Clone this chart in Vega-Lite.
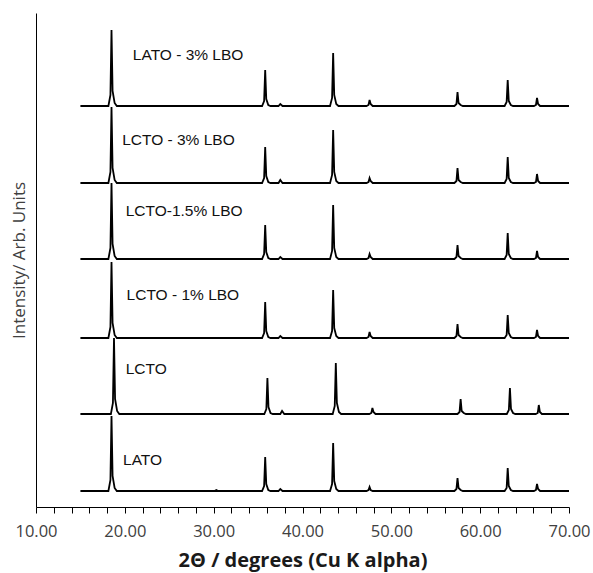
{
  "$schema": "https://vega.github.io/schema/vega-lite/v6.json",
  "width": 533,
  "height": 494,
  "autosize": "none",
  "padding": {"left": 36, "top": 13, "right": 24, "bottom": 66},
  "background": "white",
  "config": {"view": {"stroke": null}},
  "datasets": {
    "xrd": [
      {"s":"A","x":15,"y":401},{"s":"A","x":18.15,"y":401},{"s":"A","x":18.38,"y":412},{"s":"A","x":18.5,"y":477},{"s":"A","x":18.62,"y":416},{"s":"A","x":18.85,"y":404},{"s":"A","x":19.1,"y":401},
      {"s":"A","x":35.45,"y":401},{"s":"A","x":35.68,"y":406},{"s":"A","x":35.8,"y":437},{"s":"A","x":35.92,"y":408},{"s":"A","x":36.15,"y":402},{"s":"A","x":36.4,"y":401},
      {"s":"A","x":37.3,"y":401},{"s":"A","x":37.5,"y":403},{"s":"A","x":37.75,"y":401},
      {"s":"A","x":43.1,"y":401},{"s":"A","x":43.33,"y":409},{"s":"A","x":43.45,"y":454},{"s":"A","x":43.57,"y":412},{"s":"A","x":43.8,"y":403},{"s":"A","x":44.05,"y":401},
      {"s":"A","x":47.2,"y":401},{"s":"A","x":47.43,"y":402},{"s":"A","x":47.55,"y":407},{"s":"A","x":47.67,"y":403},{"s":"A","x":47.9,"y":401},
      {"s":"A","x":57.1,"y":401},{"s":"A","x":57.33,"y":403},{"s":"A","x":57.45,"y":415},{"s":"A","x":57.57,"y":404},{"s":"A","x":57.8,"y":402},{"s":"A","x":58.05,"y":401},
      {"s":"A","x":62.75,"y":401},{"s":"A","x":62.98,"y":405},{"s":"A","x":63.1,"y":427},{"s":"A","x":63.22,"y":406},{"s":"A","x":63.45,"y":402},{"s":"A","x":63.7,"y":401},
      {"s":"A","x":66.05,"y":401},{"s":"A","x":66.28,"y":402},{"s":"A","x":66.4,"y":409},{"s":"A","x":66.52,"y":403},{"s":"A","x":66.75,"y":401},{"s":"A","x":70,"y":401},

      {"s":"B","x":15,"y":324},{"s":"B","x":18.15,"y":324},{"s":"B","x":18.38,"y":335},{"s":"B","x":18.5,"y":400},{"s":"B","x":18.62,"y":339},{"s":"B","x":18.85,"y":327},{"s":"B","x":19.1,"y":324},
      {"s":"B","x":35.45,"y":324},{"s":"B","x":35.68,"y":329},{"s":"B","x":35.8,"y":360},{"s":"B","x":35.92,"y":331},{"s":"B","x":36.15,"y":325},{"s":"B","x":36.4,"y":324},
      {"s":"B","x":37.3,"y":324},{"s":"B","x":37.5,"y":327},{"s":"B","x":37.75,"y":324},
      {"s":"B","x":43.1,"y":324},{"s":"B","x":43.33,"y":332},{"s":"B","x":43.45,"y":377},{"s":"B","x":43.57,"y":335},{"s":"B","x":43.8,"y":326},{"s":"B","x":44.05,"y":324},
      {"s":"B","x":47.2,"y":324},{"s":"B","x":47.43,"y":325},{"s":"B","x":47.55,"y":329},{"s":"B","x":47.67,"y":326},{"s":"B","x":47.9,"y":324},
      {"s":"B","x":57.1,"y":324},{"s":"B","x":57.33,"y":326},{"s":"B","x":57.45,"y":339},{"s":"B","x":57.57,"y":327},{"s":"B","x":57.8,"y":325},{"s":"B","x":58.05,"y":324},
      {"s":"B","x":62.75,"y":324},{"s":"B","x":62.98,"y":328},{"s":"B","x":63.1,"y":350},{"s":"B","x":63.22,"y":329},{"s":"B","x":63.45,"y":325},{"s":"B","x":63.7,"y":324},
      {"s":"B","x":66.05,"y":324},{"s":"B","x":66.28,"y":325},{"s":"B","x":66.4,"y":333},{"s":"B","x":66.52,"y":326},{"s":"B","x":66.75,"y":324},{"s":"B","x":70,"y":324},

      {"s":"C","x":15,"y":248},{"s":"C","x":18.15,"y":248},{"s":"C","x":18.38,"y":259},{"s":"C","x":18.5,"y":324},{"s":"C","x":18.62,"y":263},{"s":"C","x":18.85,"y":251},{"s":"C","x":19.1,"y":248},
      {"s":"C","x":35.45,"y":248},{"s":"C","x":35.68,"y":253},{"s":"C","x":35.8,"y":282},{"s":"C","x":35.92,"y":255},{"s":"C","x":36.15,"y":249},{"s":"C","x":36.4,"y":248},
      {"s":"C","x":37.3,"y":248},{"s":"C","x":37.5,"y":250},{"s":"C","x":37.75,"y":248},
      {"s":"C","x":43.1,"y":248},{"s":"C","x":43.33,"y":256},{"s":"C","x":43.45,"y":302},{"s":"C","x":43.57,"y":259},{"s":"C","x":43.8,"y":250},{"s":"C","x":44.05,"y":248},
      {"s":"C","x":47.2,"y":248},{"s":"C","x":47.43,"y":249},{"s":"C","x":47.55,"y":253},{"s":"C","x":47.67,"y":250},{"s":"C","x":47.9,"y":248},
      {"s":"C","x":57.1,"y":248},{"s":"C","x":57.33,"y":250},{"s":"C","x":57.45,"y":262},{"s":"C","x":57.57,"y":251},{"s":"C","x":57.8,"y":249},{"s":"C","x":58.05,"y":248},
      {"s":"C","x":62.75,"y":248},{"s":"C","x":62.98,"y":252},{"s":"C","x":63.1,"y":274},{"s":"C","x":63.22,"y":253},{"s":"C","x":63.45,"y":249},{"s":"C","x":63.7,"y":248},
      {"s":"C","x":66.05,"y":248},{"s":"C","x":66.28,"y":249},{"s":"C","x":66.4,"y":256},{"s":"C","x":66.52,"y":250},{"s":"C","x":66.75,"y":248},{"s":"C","x":70,"y":248},

      {"s":"D","x":15,"y":169},{"s":"D","x":18.15,"y":169},{"s":"D","x":18.38,"y":180},{"s":"D","x":18.5,"y":245},{"s":"D","x":18.62,"y":184},{"s":"D","x":18.85,"y":172},{"s":"D","x":19.1,"y":169},
      {"s":"D","x":35.45,"y":169},{"s":"D","x":35.68,"y":174},{"s":"D","x":35.8,"y":205},{"s":"D","x":35.92,"y":176},{"s":"D","x":36.15,"y":170},{"s":"D","x":36.4,"y":169},
      {"s":"D","x":37.3,"y":169},{"s":"D","x":37.5,"y":171},{"s":"D","x":37.75,"y":169},
      {"s":"D","x":43.1,"y":169},{"s":"D","x":43.33,"y":176},{"s":"D","x":43.45,"y":217},{"s":"D","x":43.57,"y":179},{"s":"D","x":43.8,"y":171},{"s":"D","x":44.05,"y":169},
      {"s":"D","x":47.2,"y":169},{"s":"D","x":47.43,"y":170},{"s":"D","x":47.55,"y":175},{"s":"D","x":47.67,"y":171},{"s":"D","x":47.9,"y":169},
      {"s":"D","x":57.1,"y":169},{"s":"D","x":57.33,"y":171},{"s":"D","x":57.45,"y":183},{"s":"D","x":57.57,"y":172},{"s":"D","x":57.8,"y":170},{"s":"D","x":58.05,"y":169},
      {"s":"D","x":62.75,"y":169},{"s":"D","x":62.98,"y":172},{"s":"D","x":63.1,"y":192},{"s":"D","x":63.22,"y":174},{"s":"D","x":63.45,"y":170},{"s":"D","x":63.7,"y":169},
      {"s":"D","x":66.05,"y":169},{"s":"D","x":66.28,"y":170},{"s":"D","x":66.4,"y":177},{"s":"D","x":66.52,"y":171},{"s":"D","x":66.75,"y":169},{"s":"D","x":70,"y":169},

      {"s":"E","x":15,"y":93},{"s":"E","x":18.43,"y":93},{"s":"E","x":18.66,"y":104},{"s":"E","x":18.78,"y":169},{"s":"E","x":18.9,"y":108},{"s":"E","x":19.13,"y":96},{"s":"E","x":19.38,"y":93},
      {"s":"E","x":35.7,"y":93},{"s":"E","x":35.93,"y":98},{"s":"E","x":36.05,"y":129},{"s":"E","x":36.17,"y":100},{"s":"E","x":36.4,"y":94},{"s":"E","x":36.65,"y":93},
      {"s":"E","x":37.5,"y":93},{"s":"E","x":37.7,"y":96},{"s":"E","x":37.95,"y":93},
      {"s":"E","x":43.4,"y":93},{"s":"E","x":43.63,"y":101},{"s":"E","x":43.75,"y":144},{"s":"E","x":43.87,"y":104},{"s":"E","x":44.1,"y":95},{"s":"E","x":44.35,"y":93},
      {"s":"E","x":47.52,"y":93},{"s":"E","x":47.75,"y":94},{"s":"E","x":47.87,"y":99},{"s":"E","x":47.99,"y":95},{"s":"E","x":48.22,"y":93},
      {"s":"E","x":57.45,"y":93},{"s":"E","x":57.68,"y":95},{"s":"E","x":57.8,"y":108},{"s":"E","x":57.92,"y":96},{"s":"E","x":58.15,"y":94},{"s":"E","x":58.4,"y":93},
      {"s":"E","x":63.0,"y":93},{"s":"E","x":63.23,"y":97},{"s":"E","x":63.35,"y":119},{"s":"E","x":63.47,"y":98},{"s":"E","x":63.7,"y":94},{"s":"E","x":63.95,"y":93},
      {"s":"E","x":66.25,"y":93},{"s":"E","x":66.48,"y":94},{"s":"E","x":66.6,"y":102},{"s":"E","x":66.72,"y":95},{"s":"E","x":66.95,"y":93},{"s":"E","x":70,"y":93},

      {"s":"F","x":15,"y":16},{"s":"F","x":18.15,"y":16},{"s":"F","x":18.38,"y":27},{"s":"F","x":18.5,"y":91},{"s":"F","x":18.62,"y":31},{"s":"F","x":18.85,"y":19},{"s":"F","x":19.1,"y":16},
      {"s":"F","x":30.1,"y":16},{"s":"F","x":30.3,"y":17},{"s":"F","x":30.5,"y":16},
      {"s":"F","x":35.45,"y":16},{"s":"F","x":35.68,"y":21},{"s":"F","x":35.8,"y":50},{"s":"F","x":35.92,"y":23},{"s":"F","x":36.15,"y":17},{"s":"F","x":36.4,"y":16},
      {"s":"F","x":37.3,"y":16},{"s":"F","x":37.5,"y":18},{"s":"F","x":37.75,"y":16},
      {"s":"F","x":43.1,"y":16},{"s":"F","x":43.33,"y":23},{"s":"F","x":43.45,"y":64},{"s":"F","x":43.57,"y":26},{"s":"F","x":43.8,"y":18},{"s":"F","x":44.05,"y":16},
      {"s":"F","x":47.2,"y":16},{"s":"F","x":47.43,"y":17},{"s":"F","x":47.55,"y":20},{"s":"F","x":47.67,"y":17},{"s":"F","x":47.9,"y":16},
      {"s":"F","x":57.1,"y":16},{"s":"F","x":57.33,"y":18},{"s":"F","x":57.45,"y":29},{"s":"F","x":57.57,"y":19},{"s":"F","x":57.8,"y":17},{"s":"F","x":58.05,"y":16},
      {"s":"F","x":62.75,"y":16},{"s":"F","x":62.98,"y":19},{"s":"F","x":63.1,"y":39},{"s":"F","x":63.22,"y":21},{"s":"F","x":63.45,"y":17},{"s":"F","x":63.7,"y":16},
      {"s":"F","x":66.05,"y":16},{"s":"F","x":66.28,"y":17},{"s":"F","x":66.4,"y":23},{"s":"F","x":66.52,"y":18},{"s":"F","x":66.75,"y":16},{"s":"F","x":70,"y":16}
    ],
    "labels": [
      {"label":"LATO - 3% LBO","x":20.9,"y":452},
      {"label":"LCTO - 3% LBO","x":19.7,"y":367},
      {"label":"LCTO-1.5% LBO","x":20.1,"y":296},
      {"label":"LCTO - 1% LBO","x":20.2,"y":212},
      {"label":"LCTO","x":20.1,"y":138},
      {"label":"LATO","x":19.8,"y":47}
    ]
  },
  "encoding": {
    "x": {
      "field": "x", "type": "quantitative",
      "scale": {"domain": [10, 70], "nice": false, "zero": false},
      "axis": {
        "values": [10,12,14,16,18,20,22,24,26,28,30,32,34,36,38,40,42,44,46,48,50,52,54,56,58,60,62,64,66,68,70],
        "labelExpr": "datum.value % 10 === 0 ? format(datum.value, '.2f') : ''",
        "grid": false,
        "tickSize": 6, "tickColor": "black", "tickWidth": 1,
        "domainColor": "black", "domainWidth": 1,
        "labelFont": "Open Sans", "labelFontSize": 16.5, "labelColor": "#404040", "labelPadding": 10,
        "labelFlush": false, "labelOverlap": false, "labelBound": false,
        "title": "2Θ / degrees (Cu K alpha)",
        "titleFont": "Open Sans", "titleFontSize": 20, "titleFontWeight": "bold", "titleColor": "#1a1a1a", "titlePadding": 11
      }
    },
    "y": {
      "field": "y", "type": "quantitative",
      "scale": {"domain": [0, 494], "nice": false},
      "axis": {
        "ticks": false, "labels": false, "grid": false,
        "domainColor": "black", "domainWidth": 1,
        "title": "Intensity/ Arb. Units",
        "titleFont": "Open Sans", "titleFontSize": 17, "titleFontWeight": "normal", "titleColor": "#404040", "titlePadding": 8
      }
    }
  },
  "layer": [
    {
      "data": {"name": "xrd"},
      "mark": {"type": "line", "color": "black", "strokeWidth": 1.8, "interpolate": "linear"},
      "encoding": {
        "detail": {"field": "s", "type": "nominal"}
      }
    },
    {
      "data": {"name": "labels"},
      "mark": {"type": "text", "align": "left", "baseline": "middle", "font": "Liberation Sans", "fontSize": 15.5, "color": "#111111"},
      "encoding": {
        "text": {"field": "label", "type": "nominal"}
      }
    }
  ]
}
